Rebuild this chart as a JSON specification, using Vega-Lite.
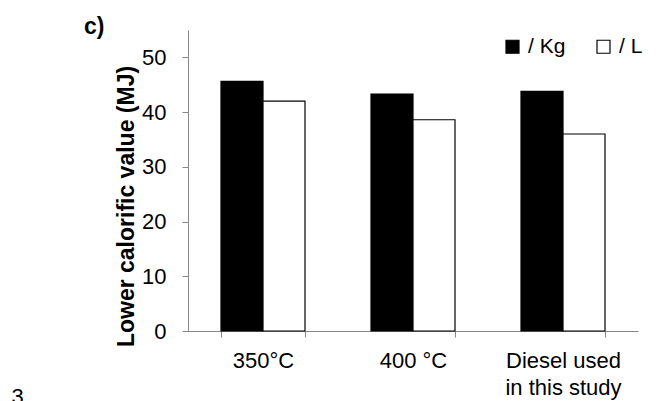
{
  "$schema": "https://vega.github.io/schema/vega-lite/v6.json",
  "autosize": "none",
  "width": 450,
  "height": 301,
  "padding": {"left": 188, "top": 30, "right": 26, "bottom": 70},
  "background": "white",
  "config": {
    "font": "Liberation Sans",
    "view": {"stroke": null},
    "axis": {"grid": false, "domainColor": "#888888", "tickColor": "#888888", "labelColor": "black", "labelFont": "Liberation Sans", "labelFontSize": 22, "titleFont": "Liberation Sans"}
  },
  "title": {"text": "c)", "anchor": "start", "frame": "group", "dx": -104, "dy": 27, "fontSize": 23, "fontWeight": "bold", "font": "Liberation Sans", "color": "black", "baseline": "alphabetic", "offset": 0},
  "data": {
    "values": [
      {"sample": "350°C", "unit": "/ Kg", "value": 45.6},
      {"sample": "350°C", "unit": "/ L", "value": 42.0},
      {"sample": "400 °C", "unit": "/ Kg", "value": 43.3},
      {"sample": "400 °C", "unit": "/ L", "value": 38.6},
      {"sample": "Diesel used in this study", "unit": "/ Kg", "value": 43.8},
      {"sample": "Diesel used in this study", "unit": "/ L", "value": 36.0}
    ]
  },
  "mark": {"type": "bar", "stroke": "black", "strokeWidth": 1.2},
  "encoding": {
    "x": {
      "field": "sample", "type": "nominal", "sort": null,
      "scale": {"paddingInner": 0.44, "paddingOuter": 0.22},
      "axis": {
        "labelAngle": 0, "tickBand": "extent", "tickSize": 6, "labelPadding": 13,
        "labelExpr": "datum.value == 'Diesel used in this study' ? ['Diesel used', 'in this study'] : datum.value",
        "labelLineHeight": 27,
        "title": "3", "titleX": -177, "titleY": 72, "titleAnchor": "start", "titleAlign": "left", "titleBaseline": "alphabetic", "titleFontWeight": "normal", "titleFontSize": 22, "titleColor": "black"
      }
    },
    "xOffset": {"field": "unit", "type": "nominal", "scale": {"paddingInner": 0}},
    "y": {
      "field": "value", "type": "quantitative",
      "scale": {"domain": [0, 55], "nice": false},
      "axis": {
        "values": [0, 10, 20, 30, 40, 50], "tickSize": 6, "labelPadding": 16,
        "title": "Lower calorific value (MJ)", "titleFontSize": 23, "titleFontWeight": "bold", "titleColor": "black",
        "titleX": -55, "titleY": 176, "titleBaseline": "alphabetic", "titleAngle": -90, "titleAlign": "center"
      }
    },
    "fill": {
      "field": "unit", "type": "nominal",
      "scale": {"domain": ["/ Kg", "/ L"], "range": ["black", "white"]},
      "legend": {
        "orient": "none", "legendX": 314, "legendY": 6, "direction": "horizontal", "title": null,
        "symbolType": "square", "symbolSize": 169, "symbolStrokeColor": "black", "symbolStrokeWidth": 1.2,
        "labelFontSize": 21, "labelColor": "black", "labelOffset": 5, "columnPadding": 27
      }
    }
  }
}
